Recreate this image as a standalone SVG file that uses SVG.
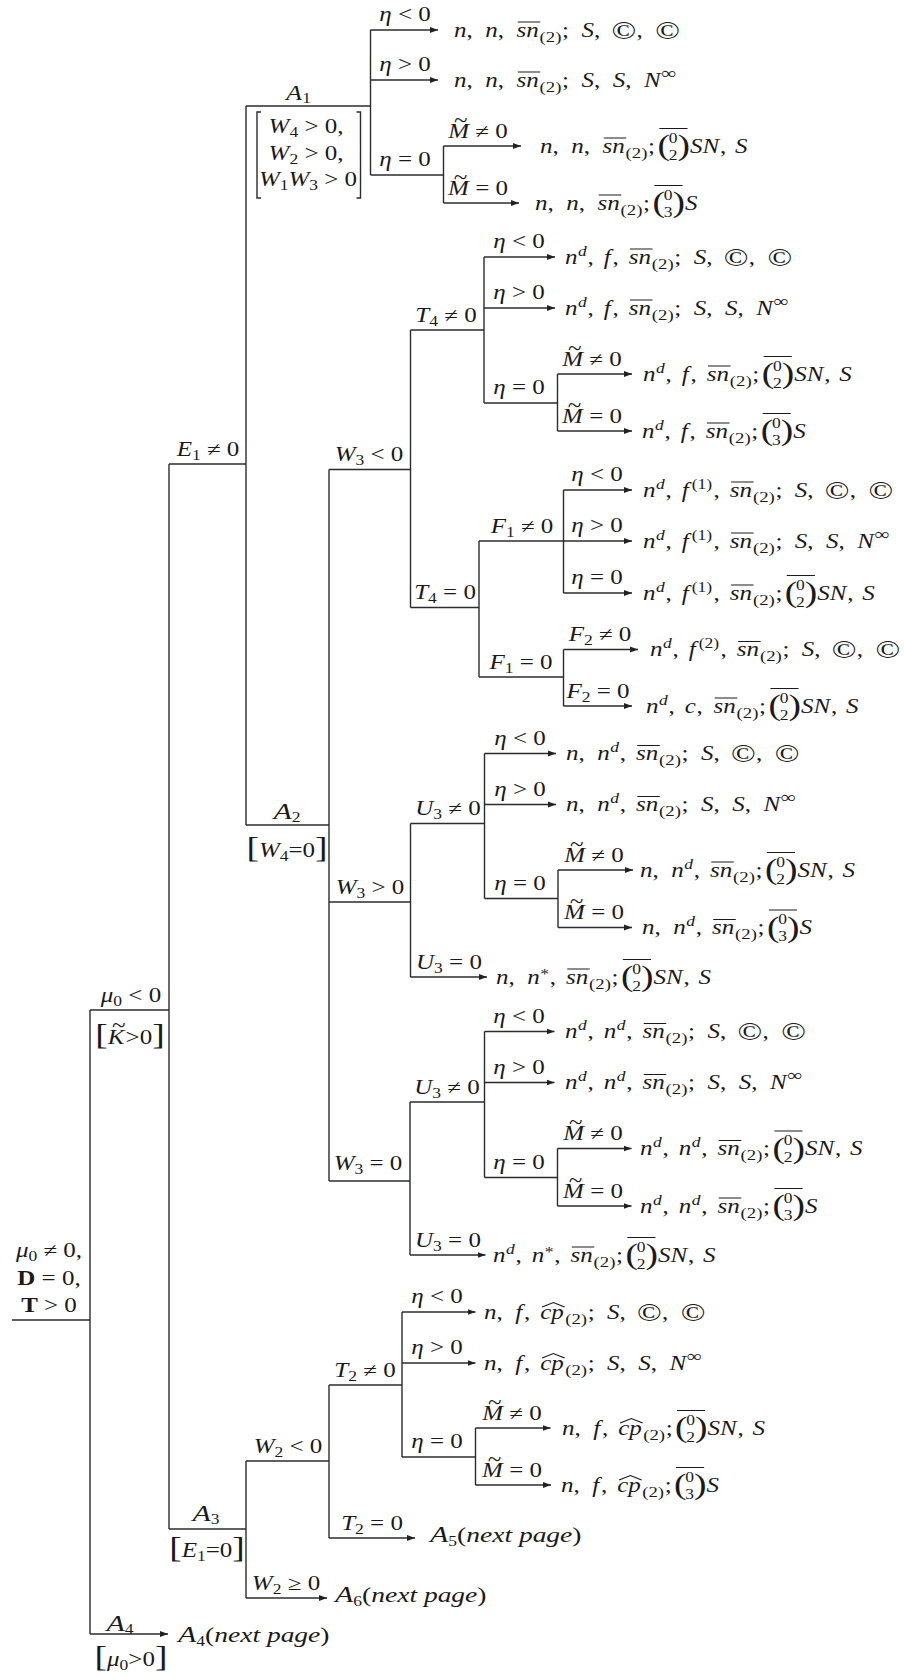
<svg xmlns="http://www.w3.org/2000/svg" width="904" height="1677" viewBox="0 0 904 1677">
<defs>
<marker id="ah" markerWidth="9" markerHeight="7" refX="8" refY="3.5" orient="auto" markerUnits="userSpaceOnUse"><path d="M0,0.5 L8,3.5 L0,6.5 z" fill="#222"/></marker>
<style>
.e{fill:none;stroke:#2b2b2b;stroke-width:1.4}
.a{marker-end:url(#ah)}
.t{font-family:"Liberation Serif","Times New Roman",serif;font-size:20px;fill:#1a1a1a}
.i{font-style:italic}
.b{font-weight:bold}
.s{font-size:14px}
.q{font-size:14px}
.p{font-size:15px}
.c{font-size:26px}
.bp{font-size:30px}
.u{font-size:17px}
.big{font-size:24px}
.np{font-size:22px}
.ol{fill:none;stroke:#1a1a1a;stroke-width:1}
</style>
</defs>
<rect width="904" height="1677" fill="#fff"/>

<g id="connectors" class="e">
<path d="M12,1320H90"/>
<path d="M90,1010V1634"/>
<path d="M90,1010H169"/>
<path class="a" d="M90,1634H168"/>
<path d="M169,464V1529"/>
<path d="M169,464H246"/>
<path d="M169,1529H246"/>
<path d="M246,106V825"/>
<path d="M246,106H370.5"/>
<path d="M370.5,30V175"/>
<path class="a" d="M370.5,30H438"/>
<path class="a" d="M370.5,80H438"/>
<path d="M370.5,175H443.5"/>
<path d="M443.5,146V203"/>
<path class="a" d="M443.5,146H521"/>
<path class="a" d="M443.5,203H519"/>
<path d="M246,825H329"/>
<path d="M329,469.5V1181"/>
<path d="M329,469.5H410.5"/>
<path d="M410.5,330V607.5"/>
<path d="M410.5,330H484"/>
<path d="M484,257V403"/>
<path class="a" d="M484,257H555"/>
<path class="a" d="M484,308H555"/>
<path d="M484,403H557.5"/>
<path d="M557.5,374V431"/>
<path class="a" d="M557.5,374H632"/>
<path class="a" d="M557.5,431H632"/>
<path d="M410.5,607.5H479"/>
<path d="M479,541V677"/>
<path d="M479,541H563.5"/>
<path d="M563.5,490V593"/>
<path class="a" d="M563.5,490H632"/>
<path class="a" d="M563.5,541H632"/>
<path class="a" d="M563.5,593H632"/>
<path d="M479,677H563.5"/>
<path d="M563.5,649.5V706"/>
<path class="a" d="M563.5,649.5H638"/>
<path class="a" d="M563.5,706H632"/>
<path d="M329,902H410.5"/>
<path d="M410.5,823.5V977"/>
<path d="M410.5,823.5H484.5"/>
<path d="M484.5,753.5V898.5"/>
<path class="a" d="M484.5,753.5H556"/>
<path class="a" d="M484.5,804.5H556"/>
<path d="M484.5,898.5H558"/>
<path d="M558,870V927.5"/>
<path class="a" d="M558,870H633"/>
<path class="a" d="M558,927.5H632"/>
<path class="a" d="M410.5,977H487"/>
<path d="M329,1181H410"/>
<path d="M410,1102V1255"/>
<path d="M410,1102H484.5"/>
<path d="M484.5,1031.5V1177.5"/>
<path class="a" d="M484.5,1031.5H554.5"/>
<path class="a" d="M484.5,1082.5H554.5"/>
<path d="M484.5,1177.5H557.5"/>
<path d="M557.5,1148.5V1206"/>
<path class="a" d="M557.5,1148.5H631.5"/>
<path class="a" d="M557.5,1206H631.5"/>
<path class="a" d="M410,1255H485.5"/>
<path d="M246,1461V1598"/>
<path d="M246,1461H329"/>
<path class="a" d="M246,1598H327"/>
<path d="M329,1385V1538"/>
<path d="M329,1385H402"/>
<path class="a" d="M329,1538H415"/>
<path d="M402,1312V1457"/>
<path class="a" d="M402,1312H475.5"/>
<path class="a" d="M402,1363H475.5"/>
<path d="M402,1457H475.5"/>
<path d="M475.5,1428V1485"/>
<path class="a" d="M475.5,1428H550.5"/>
<path class="a" d="M475.5,1485H551"/>
</g>

<g id="root">
<text class="t" text-anchor="middle" transform="translate(49,1257) scale(1.25,1)"><tspan class="i">μ</tspan><tspan class="s" dy="4">0</tspan><tspan dy="-4" dx="5">≠</tspan><tspan dx="5">0,</tspan></text>
<text class="t" text-anchor="middle" transform="translate(49,1285) scale(1.25,1)"><tspan class="b">D</tspan><tspan dx="5">=</tspan><tspan dx="5">0,</tspan></text>
<text class="t" text-anchor="middle" transform="translate(49,1312) scale(1.25,1)"><tspan class="b">T</tspan><tspan dx="5">&gt;</tspan><tspan dx="5">0</tspan></text>
</g>

<g id="mu0-neg">
<text class="t" text-anchor="middle" transform="translate(131,1002) scale(1.25,1)"><tspan class="i">μ</tspan><tspan class="s" dy="4">0</tspan><tspan dy="-4" dx="5">&lt;</tspan><tspan dx="5">0</tspan></text>
<text class="t" text-anchor="middle" transform="translate(130,1044) scale(1.25,1)"><tspan class="bp">[</tspan><tspan class="i">K</tspan><tspan dx="-10" dy="-12">~</tspan><tspan dx="0" dy="12">&gt;0</tspan><tspan class="bp">]</tspan></text>
</g>

<g id="A4">
<text class="t" text-anchor="middle" transform="translate(120,1631) scale(1.25,1)"><tspan class="i big">A</tspan><tspan class="s" dy="3">4</tspan></text>
<text class="t" text-anchor="middle" transform="translate(131,1666) scale(1.25,1)"><tspan class="bp">[</tspan><tspan class="i">μ</tspan><tspan class="s" dy="4">0</tspan><tspan dy="-4">&gt;0</tspan><tspan class="bp">]</tspan></text>
</g>
<g id="leaf-A4">
<text class="t" transform="translate(178,1642) scale(1.25,1)"><tspan class="i big">A</tspan><tspan class="s" dy="4">4</tspan><tspan class="np" dy="-4">(</tspan><tspan class="i np">next page</tspan><tspan class="np">)</tspan></text>
</g>

<g id="E1-ne0">
<text class="t" text-anchor="middle" transform="translate(208,456) scale(1.25,1)"><tspan class="i">E</tspan><tspan class="s" dy="4">1</tspan><tspan dy="-4" dx="5">≠</tspan><tspan dx="5">0</tspan></text>
</g>

<g id="A3">
<text class="t" text-anchor="middle" transform="translate(206,1521) scale(1.25,1)"><tspan class="i big">A</tspan><tspan class="s" dy="3">3</tspan></text>
<text class="t" text-anchor="middle" transform="translate(207,1557) scale(1.25,1)"><tspan class="bp">[</tspan><tspan class="i">E</tspan><tspan class="s" dy="4">1</tspan><tspan dy="-4">=0</tspan><tspan class="bp">]</tspan></text>
</g>

<g id="A1">
<text class="t" text-anchor="middle" transform="translate(298.5,100) scale(1.25,1)"><tspan class="i" font-size="21">A</tspan><tspan class="s" dy="3">1</tspan></text>
<path class="e" d="M261,112H257V198H261"/>
<path class="e" d="M356.5,112H360.5V198H356.5"/>
<text class="t" text-anchor="middle" transform="translate(306,133) scale(1.25,1)"><tspan class="i">W</tspan><tspan class="s" dy="4">4</tspan><tspan dy="-4" dx="5">&gt;</tspan><tspan dx="5">0,</tspan></text>
<text class="t" text-anchor="middle" transform="translate(306,160) scale(1.25,1)"><tspan class="i">W</tspan><tspan class="s" dy="4">2</tspan><tspan dy="-4" dx="5">&gt;</tspan><tspan dx="5">0,</tspan></text>
<text class="t" text-anchor="middle" transform="translate(308,186) scale(1.25,1)"><tspan class="i">W</tspan><tspan class="s" dy="4">1</tspan><tspan class="i" dy="-4">W</tspan><tspan class="s" dy="4">3</tspan><tspan dy="-4" dx="5">&gt;</tspan><tspan dx="5">0</tspan></text>
</g>
<g id="A1-eta-lt"><text class="t" text-anchor="middle" transform="translate(405,21) scale(1.25,1)"><tspan class="i">η</tspan><tspan dx="5">&lt;</tspan><tspan dx="5">0</tspan></text></g>
<g id="A1-eta-gt"><text class="t" text-anchor="middle" transform="translate(405,71) scale(1.25,1)"><tspan class="i">η</tspan><tspan dx="5">&gt;</tspan><tspan dx="5">0</tspan></text></g>
<g id="A1-eta-eq"><text class="t" text-anchor="middle" transform="translate(405,166) scale(1.25,1)"><tspan class="i">η</tspan><tspan dx="5">=</tspan><tspan dx="5">0</tspan></text></g>
<g id="A1-M-ne"><text class="t" text-anchor="middle" transform="translate(478,137.5) scale(1.25,1)"><tspan class="i">M</tspan><tspan dx="-12" dy="-11">~</tspan><tspan dx="6.2" dy="11">≠</tspan><tspan dx="5">0</tspan></text></g>
<g id="A1-M-eq"><text class="t" text-anchor="middle" transform="translate(478,194.5) scale(1.25,1)"><tspan class="i">M</tspan><tspan dx="-12" dy="-11">~</tspan><tspan dx="6.2" dy="11">=</tspan><tspan dx="5">0</tspan></text></g>

<g id="A2">
<text class="t" text-anchor="middle" transform="translate(287,819) scale(1.25,1)"><tspan class="i big">A</tspan><tspan class="s" dy="3">2</tspan></text>
<text class="t" text-anchor="middle" transform="translate(287,857) scale(1.25,1)"><tspan class="bp">[</tspan><tspan class="i">W</tspan><tspan class="s" dy="4">4</tspan><tspan dy="-4">=0</tspan><tspan class="bp">]</tspan></text>
</g>
<g id="W3-lt"><text class="t" text-anchor="middle" transform="translate(369,461) scale(1.25,1)"><tspan class="i">W</tspan><tspan class="s" dy="4">3</tspan><tspan dy="-4" dx="5">&lt;</tspan><tspan dx="5">0</tspan></text></g>
<g id="T4-ne"><text class="t" text-anchor="middle" transform="translate(446,322) scale(1.25,1)"><tspan class="i">T</tspan><tspan class="s" dy="4">4</tspan><tspan dy="-4" dx="5">≠</tspan><tspan dx="5">0</tspan></text></g>
<g id="T4-eta-lt"><text class="t" text-anchor="middle" transform="translate(519,248) scale(1.25,1)"><tspan class="i">η</tspan><tspan dx="5">&lt;</tspan><tspan dx="5">0</tspan></text></g>
<g id="T4-eta-gt"><text class="t" text-anchor="middle" transform="translate(519,299) scale(1.25,1)"><tspan class="i">η</tspan><tspan dx="5">&gt;</tspan><tspan dx="5">0</tspan></text></g>
<g id="T4-eta-eq"><text class="t" text-anchor="middle" transform="translate(519,394) scale(1.25,1)"><tspan class="i">η</tspan><tspan dx="5">=</tspan><tspan dx="5">0</tspan></text></g>
<g id="T4-M-ne"><text class="t" text-anchor="middle" transform="translate(592,365.5) scale(1.25,1)"><tspan class="i">M</tspan><tspan dx="-12" dy="-11">~</tspan><tspan dx="6.2" dy="11">≠</tspan><tspan dx="5">0</tspan></text></g>
<g id="T4-M-eq"><text class="t" text-anchor="middle" transform="translate(592,422.5) scale(1.25,1)"><tspan class="i">M</tspan><tspan dx="-12" dy="-11">~</tspan><tspan dx="6.2" dy="11">=</tspan><tspan dx="5">0</tspan></text></g>
<g id="T4-eq"><text class="t" text-anchor="middle" transform="translate(445,599) scale(1.25,1)"><tspan class="i">T</tspan><tspan class="s" dy="4">4</tspan><tspan dy="-4" dx="5">=</tspan><tspan dx="5">0</tspan></text></g>
<g id="F1-ne"><text class="t" text-anchor="middle" transform="translate(522,532.5) scale(1.25,1)"><tspan class="i">F</tspan><tspan class="s" dy="4">1</tspan><tspan dy="-4" dx="5">≠</tspan><tspan dx="5">0</tspan></text></g>
<g id="F1-eta-lt"><text class="t" text-anchor="middle" transform="translate(597,481) scale(1.25,1)"><tspan class="i">η</tspan><tspan dx="5">&lt;</tspan><tspan dx="5">0</tspan></text></g>
<g id="F1-eta-gt"><text class="t" text-anchor="middle" transform="translate(597,532) scale(1.25,1)"><tspan class="i">η</tspan><tspan dx="5">&gt;</tspan><tspan dx="5">0</tspan></text></g>
<g id="F1-eta-eq"><text class="t" text-anchor="middle" transform="translate(597,584) scale(1.25,1)"><tspan class="i">η</tspan><tspan dx="5">=</tspan><tspan dx="5">0</tspan></text></g>
<g id="F1-eq"><text class="t" text-anchor="middle" transform="translate(521,668.5) scale(1.25,1)"><tspan class="i">F</tspan><tspan class="s" dy="4">1</tspan><tspan dy="-4" dx="5">=</tspan><tspan dx="5">0</tspan></text></g>
<g id="F2-ne"><text class="t" text-anchor="middle" transform="translate(600,641) scale(1.25,1)"><tspan class="i">F</tspan><tspan class="s" dy="4">2</tspan><tspan dy="-4" dx="5">≠</tspan><tspan dx="5">0</tspan></text></g>
<g id="F2-eq"><text class="t" text-anchor="middle" transform="translate(598,697.5) scale(1.25,1)"><tspan class="i">F</tspan><tspan class="s" dy="4">2</tspan><tspan dy="-4" dx="5">=</tspan><tspan dx="5">0</tspan></text></g>

<g id="W3-gt"><text class="t" text-anchor="middle" transform="translate(370,893.5) scale(1.25,1)"><tspan class="i">W</tspan><tspan class="s" dy="4">3</tspan><tspan dy="-4" dx="5">&gt;</tspan><tspan dx="5">0</tspan></text></g>
<g id="U3-ne-a"><text class="t" text-anchor="middle" transform="translate(448,815) scale(1.25,1)"><tspan class="i">U</tspan><tspan class="s" dy="4">3</tspan><tspan dy="-4" dx="5">≠</tspan><tspan dx="5">0</tspan></text></g>
<g id="U3a-eta-lt"><text class="t" text-anchor="middle" transform="translate(520,744.5) scale(1.25,1)"><tspan class="i">η</tspan><tspan dx="5">&lt;</tspan><tspan dx="5">0</tspan></text></g>
<g id="U3a-eta-gt"><text class="t" text-anchor="middle" transform="translate(520,795.5) scale(1.25,1)"><tspan class="i">η</tspan><tspan dx="5">&gt;</tspan><tspan dx="5">0</tspan></text></g>
<g id="U3a-eta-eq"><text class="t" text-anchor="middle" transform="translate(520,889.5) scale(1.25,1)"><tspan class="i">η</tspan><tspan dx="5">=</tspan><tspan dx="5">0</tspan></text></g>
<g id="U3a-M-ne"><text class="t" text-anchor="middle" transform="translate(594,861.5) scale(1.25,1)"><tspan class="i">M</tspan><tspan dx="-12" dy="-11">~</tspan><tspan dx="6.2" dy="11">≠</tspan><tspan dx="5">0</tspan></text></g>
<g id="U3a-M-eq"><text class="t" text-anchor="middle" transform="translate(594,919) scale(1.25,1)"><tspan class="i">M</tspan><tspan dx="-12" dy="-11">~</tspan><tspan dx="6.2" dy="11">=</tspan><tspan dx="5">0</tspan></text></g>
<g id="U3-eq-a"><text class="t" text-anchor="middle" transform="translate(449,968.5) scale(1.25,1)"><tspan class="i">U</tspan><tspan class="s" dy="4">3</tspan><tspan dy="-4" dx="5">=</tspan><tspan dx="5">0</tspan></text></g>

<g id="W3-eq"><text class="t" text-anchor="middle" transform="translate(368,1170) scale(1.25,1)"><tspan class="i">W</tspan><tspan class="s" dy="4">3</tspan><tspan dy="-4" dx="5">=</tspan><tspan dx="5">0</tspan></text></g>
<g id="U3-ne-b"><text class="t" text-anchor="middle" transform="translate(447,1093.5) scale(1.25,1)"><tspan class="i">U</tspan><tspan class="s" dy="4">3</tspan><tspan dy="-4" dx="5">≠</tspan><tspan dx="5">0</tspan></text></g>
<g id="U3b-eta-lt"><text class="t" text-anchor="middle" transform="translate(519,1022.5) scale(1.25,1)"><tspan class="i">η</tspan><tspan dx="5">&lt;</tspan><tspan dx="5">0</tspan></text></g>
<g id="U3b-eta-gt"><text class="t" text-anchor="middle" transform="translate(519,1073.5) scale(1.25,1)"><tspan class="i">η</tspan><tspan dx="5">&gt;</tspan><tspan dx="5">0</tspan></text></g>
<g id="U3b-eta-eq"><text class="t" text-anchor="middle" transform="translate(519,1168.5) scale(1.25,1)"><tspan class="i">η</tspan><tspan dx="5">=</tspan><tspan dx="5">0</tspan></text></g>
<g id="U3b-M-ne"><text class="t" text-anchor="middle" transform="translate(593,1140) scale(1.25,1)"><tspan class="i">M</tspan><tspan dx="-12" dy="-11">~</tspan><tspan dx="6.2" dy="11">≠</tspan><tspan dx="5">0</tspan></text></g>
<g id="U3b-M-eq"><text class="t" text-anchor="middle" transform="translate(593,1197.5) scale(1.25,1)"><tspan class="i">M</tspan><tspan dx="-12" dy="-11">~</tspan><tspan dx="6.2" dy="11">=</tspan><tspan dx="5">0</tspan></text></g>
<g id="U3-eq-b"><text class="t" text-anchor="middle" transform="translate(448,1246.5) scale(1.25,1)"><tspan class="i">U</tspan><tspan class="s" dy="4">3</tspan><tspan dy="-4" dx="5">=</tspan><tspan dx="5">0</tspan></text></g>

<g id="W2-lt"><text class="t" text-anchor="middle" transform="translate(288,1452.5) scale(1.25,1)"><tspan class="i">W</tspan><tspan class="s" dy="4">2</tspan><tspan dy="-4" dx="5">&lt;</tspan><tspan dx="5">0</tspan></text></g>
<g id="W2-ge"><text class="t" text-anchor="middle" transform="translate(286,1589.5) scale(1.25,1)"><tspan class="i">W</tspan><tspan class="s" dy="4">2</tspan><tspan dy="-4" dx="5">≥</tspan><tspan dx="5">0</tspan></text></g>
<g id="T2-ne"><text class="t" text-anchor="middle" transform="translate(365,1376.5) scale(1.25,1)"><tspan class="i">T</tspan><tspan class="s" dy="4">2</tspan><tspan dy="-4" dx="5">≠</tspan><tspan dx="5">0</tspan></text></g>
<g id="T2-eq"><text class="t" text-anchor="middle" transform="translate(372,1529.5) scale(1.25,1)"><tspan class="i">T</tspan><tspan class="s" dy="4">2</tspan><tspan dy="-4" dx="5">=</tspan><tspan dx="5">0</tspan></text></g>
<g id="T2-eta-lt"><text class="t" text-anchor="middle" transform="translate(437,1303) scale(1.25,1)"><tspan class="i">η</tspan><tspan dx="5">&lt;</tspan><tspan dx="5">0</tspan></text></g>
<g id="T2-eta-gt"><text class="t" text-anchor="middle" transform="translate(437,1354) scale(1.25,1)"><tspan class="i">η</tspan><tspan dx="5">&gt;</tspan><tspan dx="5">0</tspan></text></g>
<g id="T2-eta-eq"><text class="t" text-anchor="middle" transform="translate(437,1448) scale(1.25,1)"><tspan class="i">η</tspan><tspan dx="5">=</tspan><tspan dx="5">0</tspan></text></g>
<g id="T2-M-ne"><text class="t" text-anchor="middle" transform="translate(512,1419.5) scale(1.25,1)"><tspan class="i">M</tspan><tspan dx="-12" dy="-11">~</tspan><tspan dx="6.2" dy="11">≠</tspan><tspan dx="5">0</tspan></text></g>
<g id="T2-M-eq"><text class="t" text-anchor="middle" transform="translate(512,1476.5) scale(1.25,1)"><tspan class="i">M</tspan><tspan dx="-12" dy="-11">~</tspan><tspan dx="6.2" dy="11">=</tspan><tspan dx="5">0</tspan></text></g>
<g id="leaf-A5"><text class="t" transform="translate(430,1542) scale(1.25,1)"><tspan class="i big">A</tspan><tspan class="s" dy="4">5</tspan><tspan class="np" dy="-4">(</tspan><tspan class="i np">next page</tspan><tspan class="np">)</tspan></text></g>
<g id="leaf-A6"><text class="t" transform="translate(335,1602) scale(1.25,1)"><tspan class="i big">A</tspan><tspan class="s" dy="4">6</tspan><tspan class="np" dy="-4">(</tspan><tspan class="i np">next page</tspan><tspan class="np">)</tspan></text></g>

<g id="r1" transform="translate(454,36.5) scale(1.25,1)"><text class="t"><tspan x="0" y="0" class="i">n</tspan><tspan x="10" y="0">,</tspan><tspan x="25" y="0" class="i">n</tspan><tspan x="35" y="0">,</tspan><tspan x="50" y="0" class="i">sn</tspan><tspan x="68.5" y="5" class="p">(2)</tspan><tspan x="86.5" y="0">;</tspan><tspan x="102" y="0" class="i">S</tspan><tspan x="112" y="0">,</tspan><tspan x="126" y="2" class="c">©</tspan><tspan x="146" y="0">,</tspan><tspan x="161" y="2" class="c">©</tspan></text><path class="ol" d="M51,-14.5H69"/></g>
<g id="r2" transform="translate(454,86.5) scale(1.25,1)"><text class="t"><tspan x="0" y="0" class="i">n</tspan><tspan x="10" y="0">,</tspan><tspan x="25" y="0" class="i">n</tspan><tspan x="35" y="0">,</tspan><tspan x="50" y="0" class="i">sn</tspan><tspan x="68.5" y="5" class="p">(2)</tspan><tspan x="86.5" y="0">;</tspan><tspan x="102" y="0" class="i">S</tspan><tspan x="112" y="0">,</tspan><tspan x="127" y="0" class="i">S</tspan><tspan x="137" y="0">,</tspan><tspan x="152" y="0" class="i">N</tspan><tspan x="166" y="-8" class="u">∞</tspan></text><path class="ol" d="M51,-14.5H69"/></g>
<g id="r3" transform="translate(540,152.5) scale(1.25,1)"><text class="t"><tspan x="0" y="0" class="i">n</tspan><tspan x="10" y="0">,</tspan><tspan x="25" y="0" class="i">n</tspan><tspan x="35" y="0">,</tspan><tspan x="50" y="0" class="i">sn</tspan><tspan x="68.5" y="5" class="p">(2)</tspan><tspan x="86.5" y="0">;</tspan><tspan x="94" y="2.5" class="bp">(</tspan><tspan x="103" y="-10" class="q">0</tspan><tspan x="103" y="7" class="q">2</tspan><tspan x="110" y="2.5" class="bp">)</tspan><tspan x="120" y="0" class="i">SN</tspan><tspan x="144" y="0">,</tspan><tspan x="156" y="0" class="i">S</tspan></text><path class="ol" d="M51,-14.5H69M95.5,-24H118"/></g>
<g id="r4" transform="translate(535,209.5) scale(1.25,1)"><text class="t"><tspan x="0" y="0" class="i">n</tspan><tspan x="10" y="0">,</tspan><tspan x="25" y="0" class="i">n</tspan><tspan x="35" y="0">,</tspan><tspan x="50" y="0" class="i">sn</tspan><tspan x="68.5" y="5" class="p">(2)</tspan><tspan x="86.5" y="0">;</tspan><tspan x="94" y="2.5" class="bp">(</tspan><tspan x="103" y="-10" class="q">0</tspan><tspan x="103" y="7" class="q">3</tspan><tspan x="110" y="2.5" class="bp">)</tspan><tspan x="120" y="0" class="i">S</tspan></text><path class="ol" d="M51,-14.5H69M95.5,-24H118"/></g>

<g id="r5" transform="translate(565,263.5) scale(1.25,1)"><text class="t"><tspan x="0" y="0" class="i">n</tspan><tspan x="10.5" y="-8" class="q i">d</tspan><tspan x="18" y="0">,</tspan><tspan x="31" y="0" class="i">f</tspan><tspan x="38" y="0">,</tspan><tspan x="51" y="0" class="i">sn</tspan><tspan x="69.5" y="5" class="p">(2)</tspan><tspan x="87.5" y="0">;</tspan><tspan x="103" y="0" class="i">S</tspan><tspan x="113" y="0">,</tspan><tspan x="127" y="2" class="c">©</tspan><tspan x="147" y="0">,</tspan><tspan x="162" y="2" class="c">©</tspan></text><path class="ol" d="M52,-14.5H70"/></g>
<g id="r6" transform="translate(565,314.5) scale(1.25,1)"><text class="t"><tspan x="0" y="0" class="i">n</tspan><tspan x="10.5" y="-8" class="q i">d</tspan><tspan x="18" y="0">,</tspan><tspan x="31" y="0" class="i">f</tspan><tspan x="38" y="0">,</tspan><tspan x="51" y="0" class="i">sn</tspan><tspan x="69.5" y="5" class="p">(2)</tspan><tspan x="87.5" y="0">;</tspan><tspan x="103" y="0" class="i">S</tspan><tspan x="113" y="0">,</tspan><tspan x="128" y="0" class="i">S</tspan><tspan x="138" y="0">,</tspan><tspan x="153" y="0" class="i">N</tspan><tspan x="167" y="-8" class="u">∞</tspan></text><path class="ol" d="M52,-14.5H70"/></g>
<g id="r7" transform="translate(643,380.5) scale(1.25,1)"><text class="t"><tspan x="0" y="0" class="i">n</tspan><tspan x="10.5" y="-8" class="q i">d</tspan><tspan x="18" y="0">,</tspan><tspan x="31" y="0" class="i">f</tspan><tspan x="38" y="0">,</tspan><tspan x="51" y="0" class="i">sn</tspan><tspan x="69.5" y="5" class="p">(2)</tspan><tspan x="87.5" y="0">;</tspan><tspan x="95" y="2.5" class="bp">(</tspan><tspan x="104" y="-10" class="q">0</tspan><tspan x="104" y="7" class="q">2</tspan><tspan x="111" y="2.5" class="bp">)</tspan><tspan x="121" y="0" class="i">SN</tspan><tspan x="145" y="0">,</tspan><tspan x="157" y="0" class="i">S</tspan></text><path class="ol" d="M52,-14.5H70M96.5,-24H119"/></g>
<g id="r8" transform="translate(642,437.5) scale(1.25,1)"><text class="t"><tspan x="0" y="0" class="i">n</tspan><tspan x="10.5" y="-8" class="q i">d</tspan><tspan x="18" y="0">,</tspan><tspan x="31" y="0" class="i">f</tspan><tspan x="38" y="0">,</tspan><tspan x="51" y="0" class="i">sn</tspan><tspan x="69.5" y="5" class="p">(2)</tspan><tspan x="87.5" y="0">;</tspan><tspan x="95" y="2.5" class="bp">(</tspan><tspan x="104" y="-10" class="q">0</tspan><tspan x="104" y="7" class="q">3</tspan><tspan x="111" y="2.5" class="bp">)</tspan><tspan x="121" y="0" class="i">S</tspan></text><path class="ol" d="M52,-14.5H70M96.5,-24H119"/></g>

<g id="r9" transform="translate(643,496.5) scale(1.25,1)"><text class="t"><tspan x="0" y="0" class="i">n</tspan><tspan x="10.5" y="-8" class="q i">d</tspan><tspan x="18" y="0">,</tspan><tspan x="31" y="0" class="i">f</tspan><tspan x="39" y="-8" class="q">(1)</tspan><tspan x="56.5" y="0">,</tspan><tspan x="69.5" y="0" class="i">sn</tspan><tspan x="88" y="5" class="p">(2)</tspan><tspan x="106" y="0">;</tspan><tspan x="121.5" y="0" class="i">S</tspan><tspan x="131.5" y="0">,</tspan><tspan x="145.5" y="2" class="c">©</tspan><tspan x="165.5" y="0">,</tspan><tspan x="180.5" y="2" class="c">©</tspan></text><path class="ol" d="M70.5,-14.5H88.5"/></g>
<g id="r10" transform="translate(643,547.5) scale(1.25,1)"><text class="t"><tspan x="0" y="0" class="i">n</tspan><tspan x="10.5" y="-8" class="q i">d</tspan><tspan x="18" y="0">,</tspan><tspan x="31" y="0" class="i">f</tspan><tspan x="39" y="-8" class="q">(1)</tspan><tspan x="56.5" y="0">,</tspan><tspan x="69.5" y="0" class="i">sn</tspan><tspan x="88" y="5" class="p">(2)</tspan><tspan x="106" y="0">;</tspan><tspan x="121.5" y="0" class="i">S</tspan><tspan x="131.5" y="0">,</tspan><tspan x="146.5" y="0" class="i">S</tspan><tspan x="156.5" y="0">,</tspan><tspan x="171.5" y="0" class="i">N</tspan><tspan x="185.5" y="-8" class="u">∞</tspan></text><path class="ol" d="M70.5,-14.5H88.5"/></g>
<g id="r11" transform="translate(643,599.5) scale(1.25,1)"><text class="t"><tspan x="0" y="0" class="i">n</tspan><tspan x="10.5" y="-8" class="q i">d</tspan><tspan x="18" y="0">,</tspan><tspan x="31" y="0" class="i">f</tspan><tspan x="39" y="-8" class="q">(1)</tspan><tspan x="56.5" y="0">,</tspan><tspan x="69.5" y="0" class="i">sn</tspan><tspan x="88" y="5" class="p">(2)</tspan><tspan x="106" y="0">;</tspan><tspan x="113.5" y="2.5" class="bp">(</tspan><tspan x="122.5" y="-10" class="q">0</tspan><tspan x="122.5" y="7" class="q">2</tspan><tspan x="129.5" y="2.5" class="bp">)</tspan><tspan x="139.5" y="0" class="i">SN</tspan><tspan x="163.5" y="0">,</tspan><tspan x="175.5" y="0" class="i">S</tspan></text><path class="ol" d="M70.5,-14.5H88.5M115,-24H137.5"/></g>
<g id="r12" transform="translate(650,656) scale(1.25,1)"><text class="t"><tspan x="0" y="0" class="i">n</tspan><tspan x="10.5" y="-8" class="q i">d</tspan><tspan x="18" y="0">,</tspan><tspan x="31" y="0" class="i">f</tspan><tspan x="39" y="-8" class="q">(2)</tspan><tspan x="56.5" y="0">,</tspan><tspan x="69.5" y="0" class="i">sn</tspan><tspan x="88" y="5" class="p">(2)</tspan><tspan x="106" y="0">;</tspan><tspan x="121.5" y="0" class="i">S</tspan><tspan x="131.5" y="0">,</tspan><tspan x="145.5" y="2" class="c">©</tspan><tspan x="165.5" y="0">,</tspan><tspan x="180.5" y="2" class="c">©</tspan></text><path class="ol" d="M70.5,-14.5H88.5"/></g>
<g id="r13" transform="translate(646,712.5) scale(1.25,1)"><text class="t"><tspan x="0" y="0" class="i">n</tspan><tspan x="10.5" y="-8" class="q i">d</tspan><tspan x="18" y="0">,</tspan><tspan x="31" y="0" class="i">c</tspan><tspan x="40.5" y="0">,</tspan><tspan x="54" y="0" class="i">sn</tspan><tspan x="72.5" y="5" class="p">(2)</tspan><tspan x="90.5" y="0">;</tspan><tspan x="98" y="2.5" class="bp">(</tspan><tspan x="107" y="-10" class="q">0</tspan><tspan x="107" y="7" class="q">2</tspan><tspan x="114" y="2.5" class="bp">)</tspan><tspan x="124" y="0" class="i">SN</tspan><tspan x="148" y="0">,</tspan><tspan x="160" y="0" class="i">S</tspan></text><path class="ol" d="M55,-14.5H73M99.5,-24H122"/></g>

<g id="r14" transform="translate(566,760) scale(1.25,1)"><text class="t"><tspan x="0" y="0" class="i">n</tspan><tspan x="10" y="0">,</tspan><tspan x="25" y="0" class="i">n</tspan><tspan x="35.5" y="-8" class="q i">d</tspan><tspan x="43" y="0">,</tspan><tspan x="56" y="0" class="i">sn</tspan><tspan x="74.5" y="5" class="p">(2)</tspan><tspan x="92.5" y="0">;</tspan><tspan x="108" y="0" class="i">S</tspan><tspan x="118" y="0">,</tspan><tspan x="132" y="2" class="c">©</tspan><tspan x="152" y="0">,</tspan><tspan x="167" y="2" class="c">©</tspan></text><path class="ol" d="M57,-14.5H75"/></g>
<g id="r15" transform="translate(566,811) scale(1.25,1)"><text class="t"><tspan x="0" y="0" class="i">n</tspan><tspan x="10" y="0">,</tspan><tspan x="25" y="0" class="i">n</tspan><tspan x="35.5" y="-8" class="q i">d</tspan><tspan x="43" y="0">,</tspan><tspan x="56" y="0" class="i">sn</tspan><tspan x="74.5" y="5" class="p">(2)</tspan><tspan x="92.5" y="0">;</tspan><tspan x="108" y="0" class="i">S</tspan><tspan x="118" y="0">,</tspan><tspan x="133" y="0" class="i">S</tspan><tspan x="143" y="0">,</tspan><tspan x="158" y="0" class="i">N</tspan><tspan x="172" y="-8" class="u">∞</tspan></text><path class="ol" d="M57,-14.5H75"/></g>
<g id="r16" transform="translate(640,876.5) scale(1.25,1)"><text class="t"><tspan x="0" y="0" class="i">n</tspan><tspan x="10" y="0">,</tspan><tspan x="25" y="0" class="i">n</tspan><tspan x="35.5" y="-8" class="q i">d</tspan><tspan x="43" y="0">,</tspan><tspan x="56" y="0" class="i">sn</tspan><tspan x="74.5" y="5" class="p">(2)</tspan><tspan x="92.5" y="0">;</tspan><tspan x="100" y="2.5" class="bp">(</tspan><tspan x="109" y="-10" class="q">0</tspan><tspan x="109" y="7" class="q">2</tspan><tspan x="116" y="2.5" class="bp">)</tspan><tspan x="126" y="0" class="i">SN</tspan><tspan x="150" y="0">,</tspan><tspan x="162" y="0" class="i">S</tspan></text><path class="ol" d="M57,-14.5H75M101.5,-24H124"/></g>
<g id="r17" transform="translate(642,934) scale(1.25,1)"><text class="t"><tspan x="0" y="0" class="i">n</tspan><tspan x="10" y="0">,</tspan><tspan x="25" y="0" class="i">n</tspan><tspan x="35.5" y="-8" class="q i">d</tspan><tspan x="43" y="0">,</tspan><tspan x="56" y="0" class="i">sn</tspan><tspan x="74.5" y="5" class="p">(2)</tspan><tspan x="92.5" y="0">;</tspan><tspan x="100" y="2.5" class="bp">(</tspan><tspan x="109" y="-10" class="q">0</tspan><tspan x="109" y="7" class="q">3</tspan><tspan x="116" y="2.5" class="bp">)</tspan><tspan x="126" y="0" class="i">S</tspan></text><path class="ol" d="M57,-14.5H75M101.5,-24H124"/></g>
<g id="r18" transform="translate(496,983.5) scale(1.25,1)"><text class="t"><tspan x="0" y="0" class="i">n</tspan><tspan x="10" y="0">,</tspan><tspan x="25" y="0" class="i">n</tspan><tspan x="35.5" y="-5" class="q">*</tspan><tspan x="43" y="0">,</tspan><tspan x="56" y="0" class="i">sn</tspan><tspan x="74.5" y="5" class="p">(2)</tspan><tspan x="92.5" y="0">;</tspan><tspan x="100" y="2.5" class="bp">(</tspan><tspan x="109" y="-10" class="q">0</tspan><tspan x="109" y="7" class="q">2</tspan><tspan x="116" y="2.5" class="bp">)</tspan><tspan x="126" y="0" class="i">SN</tspan><tspan x="150" y="0">,</tspan><tspan x="162" y="0" class="i">S</tspan></text><path class="ol" d="M57,-14.5H75M101.5,-24H124"/></g>

<g id="r19" transform="translate(565,1038) scale(1.25,1)"><text class="t"><tspan x="0" y="0" class="i">n</tspan><tspan x="10.5" y="-8" class="q i">d</tspan><tspan x="18" y="0">,</tspan><tspan x="31" y="0" class="i">n</tspan><tspan x="41.5" y="-8" class="q i">d</tspan><tspan x="49" y="0">,</tspan><tspan x="62" y="0" class="i">sn</tspan><tspan x="80.5" y="5" class="p">(2)</tspan><tspan x="98.5" y="0">;</tspan><tspan x="114" y="0" class="i">S</tspan><tspan x="124" y="0">,</tspan><tspan x="138" y="2" class="c">©</tspan><tspan x="158" y="0">,</tspan><tspan x="173" y="2" class="c">©</tspan></text><path class="ol" d="M63,-14.5H81"/></g>
<g id="r20" transform="translate(565,1089) scale(1.25,1)"><text class="t"><tspan x="0" y="0" class="i">n</tspan><tspan x="10.5" y="-8" class="q i">d</tspan><tspan x="18" y="0">,</tspan><tspan x="31" y="0" class="i">n</tspan><tspan x="41.5" y="-8" class="q i">d</tspan><tspan x="49" y="0">,</tspan><tspan x="62" y="0" class="i">sn</tspan><tspan x="80.5" y="5" class="p">(2)</tspan><tspan x="98.5" y="0">;</tspan><tspan x="114" y="0" class="i">S</tspan><tspan x="124" y="0">,</tspan><tspan x="139" y="0" class="i">S</tspan><tspan x="149" y="0">,</tspan><tspan x="164" y="0" class="i">N</tspan><tspan x="178" y="-8" class="u">∞</tspan></text><path class="ol" d="M63,-14.5H81"/></g>
<g id="r21" transform="translate(640,1155) scale(1.25,1)"><text class="t"><tspan x="0" y="0" class="i">n</tspan><tspan x="10.5" y="-8" class="q i">d</tspan><tspan x="18" y="0">,</tspan><tspan x="31" y="0" class="i">n</tspan><tspan x="41.5" y="-8" class="q i">d</tspan><tspan x="49" y="0">,</tspan><tspan x="62" y="0" class="i">sn</tspan><tspan x="80.5" y="5" class="p">(2)</tspan><tspan x="98.5" y="0">;</tspan><tspan x="106" y="2.5" class="bp">(</tspan><tspan x="115" y="-10" class="q">0</tspan><tspan x="115" y="7" class="q">2</tspan><tspan x="122" y="2.5" class="bp">)</tspan><tspan x="132" y="0" class="i">SN</tspan><tspan x="156" y="0">,</tspan><tspan x="168" y="0" class="i">S</tspan></text><path class="ol" d="M63,-14.5H81M107.5,-24H130"/></g>
<g id="r22" transform="translate(640,1212.5) scale(1.25,1)"><text class="t"><tspan x="0" y="0" class="i">n</tspan><tspan x="10.5" y="-8" class="q i">d</tspan><tspan x="18" y="0">,</tspan><tspan x="31" y="0" class="i">n</tspan><tspan x="41.5" y="-8" class="q i">d</tspan><tspan x="49" y="0">,</tspan><tspan x="62" y="0" class="i">sn</tspan><tspan x="80.5" y="5" class="p">(2)</tspan><tspan x="98.5" y="0">;</tspan><tspan x="106" y="2.5" class="bp">(</tspan><tspan x="115" y="-10" class="q">0</tspan><tspan x="115" y="7" class="q">3</tspan><tspan x="122" y="2.5" class="bp">)</tspan><tspan x="132" y="0" class="i">S</tspan></text><path class="ol" d="M63,-14.5H81M107.5,-24H130"/></g>
<g id="r23" transform="translate(493,1261.5) scale(1.25,1)"><text class="t"><tspan x="0" y="0" class="i">n</tspan><tspan x="10.5" y="-8" class="q i">d</tspan><tspan x="18" y="0">,</tspan><tspan x="31" y="0" class="i">n</tspan><tspan x="41.5" y="-5" class="q">*</tspan><tspan x="49" y="0">,</tspan><tspan x="62" y="0" class="i">sn</tspan><tspan x="80.5" y="5" class="p">(2)</tspan><tspan x="98.5" y="0">;</tspan><tspan x="106" y="2.5" class="bp">(</tspan><tspan x="115" y="-10" class="q">0</tspan><tspan x="115" y="7" class="q">2</tspan><tspan x="122" y="2.5" class="bp">)</tspan><tspan x="132" y="0" class="i">SN</tspan><tspan x="156" y="0">,</tspan><tspan x="168" y="0" class="i">S</tspan></text><path class="ol" d="M63,-14.5H81M107.5,-24H130"/></g>

<g id="r24" transform="translate(484,1318.5) scale(1.25,1)"><text class="t"><tspan x="0" y="0" class="i">n</tspan><tspan x="10" y="0">,</tspan><tspan x="25" y="0" class="i">f</tspan><tspan x="32" y="0">,</tspan><tspan x="45" y="0" class="i">cp</tspan><tspan x="65" y="5" class="p">(2)</tspan><tspan x="83" y="0">;</tspan><tspan x="98.5" y="0" class="i">S</tspan><tspan x="108.5" y="0">,</tspan><tspan x="122.5" y="2" class="c">©</tspan><tspan x="142.5" y="0">,</tspan><tspan x="157.5" y="2" class="c">©</tspan></text><path class="ol" d="M46.5,-11.5L55.5,-16L64.5,-11.5"/></g>
<g id="r25" transform="translate(484,1369.5) scale(1.25,1)"><text class="t"><tspan x="0" y="0" class="i">n</tspan><tspan x="10" y="0">,</tspan><tspan x="25" y="0" class="i">f</tspan><tspan x="32" y="0">,</tspan><tspan x="45" y="0" class="i">cp</tspan><tspan x="65" y="5" class="p">(2)</tspan><tspan x="83" y="0">;</tspan><tspan x="98.5" y="0" class="i">S</tspan><tspan x="108.5" y="0">,</tspan><tspan x="123.5" y="0" class="i">S</tspan><tspan x="133.5" y="0">,</tspan><tspan x="148.5" y="0" class="i">N</tspan><tspan x="162.5" y="-8" class="u">∞</tspan></text><path class="ol" d="M46.5,-11.5L55.5,-16L64.5,-11.5"/></g>
<g id="r26" transform="translate(562,1434.5) scale(1.25,1)"><text class="t"><tspan x="0" y="0" class="i">n</tspan><tspan x="10" y="0">,</tspan><tspan x="25" y="0" class="i">f</tspan><tspan x="32" y="0">,</tspan><tspan x="45" y="0" class="i">cp</tspan><tspan x="65" y="5" class="p">(2)</tspan><tspan x="83" y="0">;</tspan><tspan x="90.5" y="2.5" class="bp">(</tspan><tspan x="99.5" y="-10" class="q">0</tspan><tspan x="99.5" y="7" class="q">2</tspan><tspan x="106.5" y="2.5" class="bp">)</tspan><tspan x="116.5" y="0" class="i">SN</tspan><tspan x="140.5" y="0">,</tspan><tspan x="152.5" y="0" class="i">S</tspan></text><path class="ol" d="M46.5,-11.5L55.5,-16L64.5,-11.5M92,-24H114.5"/></g>
<g id="r27" transform="translate(561,1491.5) scale(1.25,1)"><text class="t"><tspan x="0" y="0" class="i">n</tspan><tspan x="10" y="0">,</tspan><tspan x="25" y="0" class="i">f</tspan><tspan x="32" y="0">,</tspan><tspan x="45" y="0" class="i">cp</tspan><tspan x="65" y="5" class="p">(2)</tspan><tspan x="83" y="0">;</tspan><tspan x="90.5" y="2.5" class="bp">(</tspan><tspan x="99.5" y="-10" class="q">0</tspan><tspan x="99.5" y="7" class="q">3</tspan><tspan x="106.5" y="2.5" class="bp">)</tspan><tspan x="116.5" y="0" class="i">S</tspan></text><path class="ol" d="M46.5,-11.5L55.5,-16L64.5,-11.5M92,-24H114.5"/></g>
</svg>
